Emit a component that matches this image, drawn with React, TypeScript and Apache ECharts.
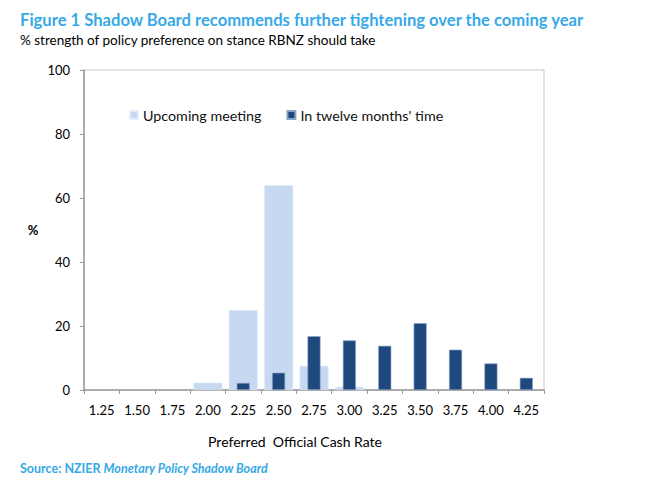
import React, { useEffect, useRef } from "react";
import * as echarts from "echarts";

const categories = ["1.25", "1.50", "1.75", "2.00", "2.25", "2.50", "2.75", "3.00", "3.25", "3.50", "3.75", "4.00", "4.25"];
const upcomingMeeting = [0, 0, 0, 2.3, 25, 64, 7.6, 1.0, 0, 0, 0, 0, 0];
const twelveMonths = [0, 0, 0, 0, 2.2, 5.4, 16.8, 15.5, 13.8, 20.9, 12.6, 8.3, 3.8];
const yMin = 0;
const yMax = 100;
const yInterval = 20;

const FONT = "Lato, 'Open Sans', sans-serif";
const BLUE = "#36a9e6";

const nonZero = (arr: number[]) => arr.map((v) => (v === 0 ? null : v));

export default function App() {
  const ref = useRef<HTMLDivElement>(null);
  useEffect(() => {
    if (!ref.current) return;
    const chart = echarts.init(ref.current, undefined, { renderer: "svg" });
    const xCommon = {
      type: "category" as const,
      data: categories,
      boundaryGap: true,
    };
    chart.setOption({
      animation: false,
      textStyle: { fontFamily: FONT },
      grid: {
        left: 84,
        top: 70,
        right: 114,
        bottom: 92,
        show: true,
        borderColor: "#c8c8c8",
        borderWidth: 1,
      },
      legend: {
        left: 124,
        top: 103,
        icon: "rect",
        itemWidth: 8,
        itemHeight: 8,
        itemGap: 25,
        textStyle: { fontFamily: FONT, fontSize: 14.3, color: "#111" },
        data: ["Upcoming meeting", "In twelve months' time"],
      },
      xAxis: [
        {
          ...xCommon,
          axisLine: { show: true, lineStyle: { color: "#9a9a9a", width: 1.5 } },
          axisTick: { show: true, length: 4, lineStyle: { color: "#9a9a9a" } },
          axisLabel: { fontFamily: FONT, fontSize: 13, color: "#000", margin: 13 },
          splitLine: { show: false },
        },
        {
          ...xCommon,
          show: false,
        },
      ],
      yAxis: {
        type: "value",
        min: yMin,
        max: yMax,
        interval: yInterval,
        axisLine: { show: true, lineStyle: { color: "#9a9a9a", width: 1.5 } },
        axisTick: { show: true, length: 4, lineStyle: { color: "#9a9a9a" } },
        axisLabel: { fontFamily: FONT, fontSize: 13, color: "#000", margin: 14 },
        splitLine: { show: false },
      },
      series: [
        {
          name: "Upcoming meeting",
          type: "bar",
          xAxisIndex: 0,
          data: nonZero(upcomingMeeting),
          barWidth: 29,
          itemStyle: { color: "#c6d9f1", borderColor: "#e4edf9", borderWidth: 0.6 },
        },
        {
          name: "In twelve months' time",
          type: "bar",
          xAxisIndex: 1,
          data: nonZero(twelveMonths),
          barWidth: 13,
          itemStyle: { color: "#1f497d", borderColor: "#8aa3c8", borderWidth: 0.6 },
        },
      ],
      graphic: [
        {
          type: "text",
          left: 20,
          top: 11,
          style: {
            text: "Figure 1 Shadow Board recommends further tightening over the coming year",
            font: `bold 16.6px ${FONT}`,
            fill: BLUE,
          },
        },
        {
          type: "text",
          left: 20,
          top: 33,
          style: {
            text: "% strength of policy preference on stance RBNZ should take",
            font: `13.5px ${FONT}`,
            fill: "#000",
          },
        },
        {
          type: "text",
          x: 33,
          y: 230,
          style: {
            text: "%",
            font: `bold 13px ${FONT}`,
            fill: "#000",
            align: "center",
            verticalAlign: "middle",
          },
        },
        {
          type: "text",
          x: 295,
          y: 441,
          style: {
            text: "Preferred  Official Cash Rate",
            font: `14px ${FONT}`,
            fill: "#000",
            align: "center",
            verticalAlign: "middle",
          },
        },
        {
          type: "text",
          left: 20,
          top: 462,
          style: {
            text: "{a|Source: NZIER }{b|Monetary Policy Shadow Board}",
            rich: {
              a: { fontFamily: FONT, fontWeight: "bold", fontSize: 12.5, fill: BLUE },
              b: { fontFamily: FONT, fontWeight: "bold", fontStyle: "italic", fontSize: 12.5, fill: BLUE },
            },
          },
        },
      ],
    });
    return () => chart.dispose();
  }, []);
  return (
    <div
      ref={ref}
      style={{ position: "fixed", left: 0, top: 0, width: 658, height: 482, background: "#fff" }}
    />
  );
}
